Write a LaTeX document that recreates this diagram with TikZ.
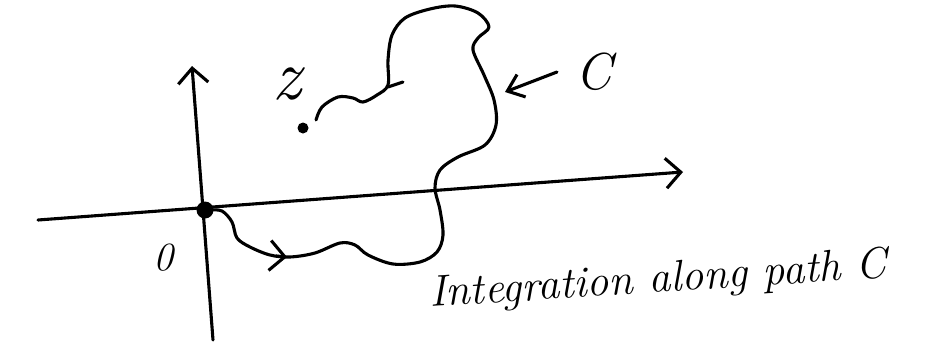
\documentclass[tikz,border=0pt]{standalone}
\usetikzlibrary{arrows.meta}
\begin{document}
\begin{tikzpicture}[x=1pt,y=-1pt,
  pen/.style={line width=3.1pt,line cap=round,line join=round,black},
  barb/.style={-{Straight Barb[length=15pt,width=30pt,line width=3.1pt]}},
  hand/.style={font=\fontsize{#1}{#1}\selectfont\itshape,inner sep=0pt}]
\useasboundingbox (0,0) rectangle (935,343);
% axes
\coordinate (ybot) at (213,340);
\coordinate (ytop) at (192,66);
\coordinate (xleft) at (38,220);
\coordinate (xright) at (683,172);
\draw[pen,barb] (ybot) -- (ytop);
\draw[pen,barb] (xleft) -- (xright);
% origin and z
\node[circle,fill=black,minimum size=17pt,inner sep=0pt] (O) at (205,210) {};
\node[circle,fill=black,minimum size=11pt,inner sep=0pt] (zp) at (303,128) {};
\node[hand=40] (zero) at (163,258) {0};
\node[hand=72] (zlab) at (287,84) {z};
% path C
\draw[pen] plot[smooth,tension=0.55] coordinates {
 (210,210) (222,211) (232,222) (237,238) (250,247) (270,255) (290,257)
 (315,253) (340,243) (355,245) (368,255) (393,264) (420,262) (437,252)
 (443,235) (440,210) (435,188) (440,170) (458,157) (485,145) (496,125)
 (494,100) (484,75) (473,50) (478,38) (489,27) (478,13) (455,6) (430,9)
 (405,18) (392,35) (388,60) (388,85) (377,95) (363,102) (353,98)
 (338,97) (322,107) (316,120)};
\coordinate (hk1) at (388,87);
\coordinate (hk2) at (403,82);
\draw[pen] (hk1) -- (hk2);
% direction arrow on the path
\coordinate (pa1) at (276,256);
\coordinate (pa2) at (287,257);
\draw[pen,barb] (pa1) -- (pa2);
% label C with arrow
\node[hand=52] (Clab) at (594,72) {C};
\coordinate (Ctip) at (505,92);
\draw[pen,-{Straight Barb[length=15pt,width=24pt,line width=3.1pt]}] (557,72) -- (Ctip);
% caption
\node[hand=44,anchor=base west,rotate=3.7] (cap) at (430,307) {Integration along path C};
\end{tikzpicture}
\end{document}
